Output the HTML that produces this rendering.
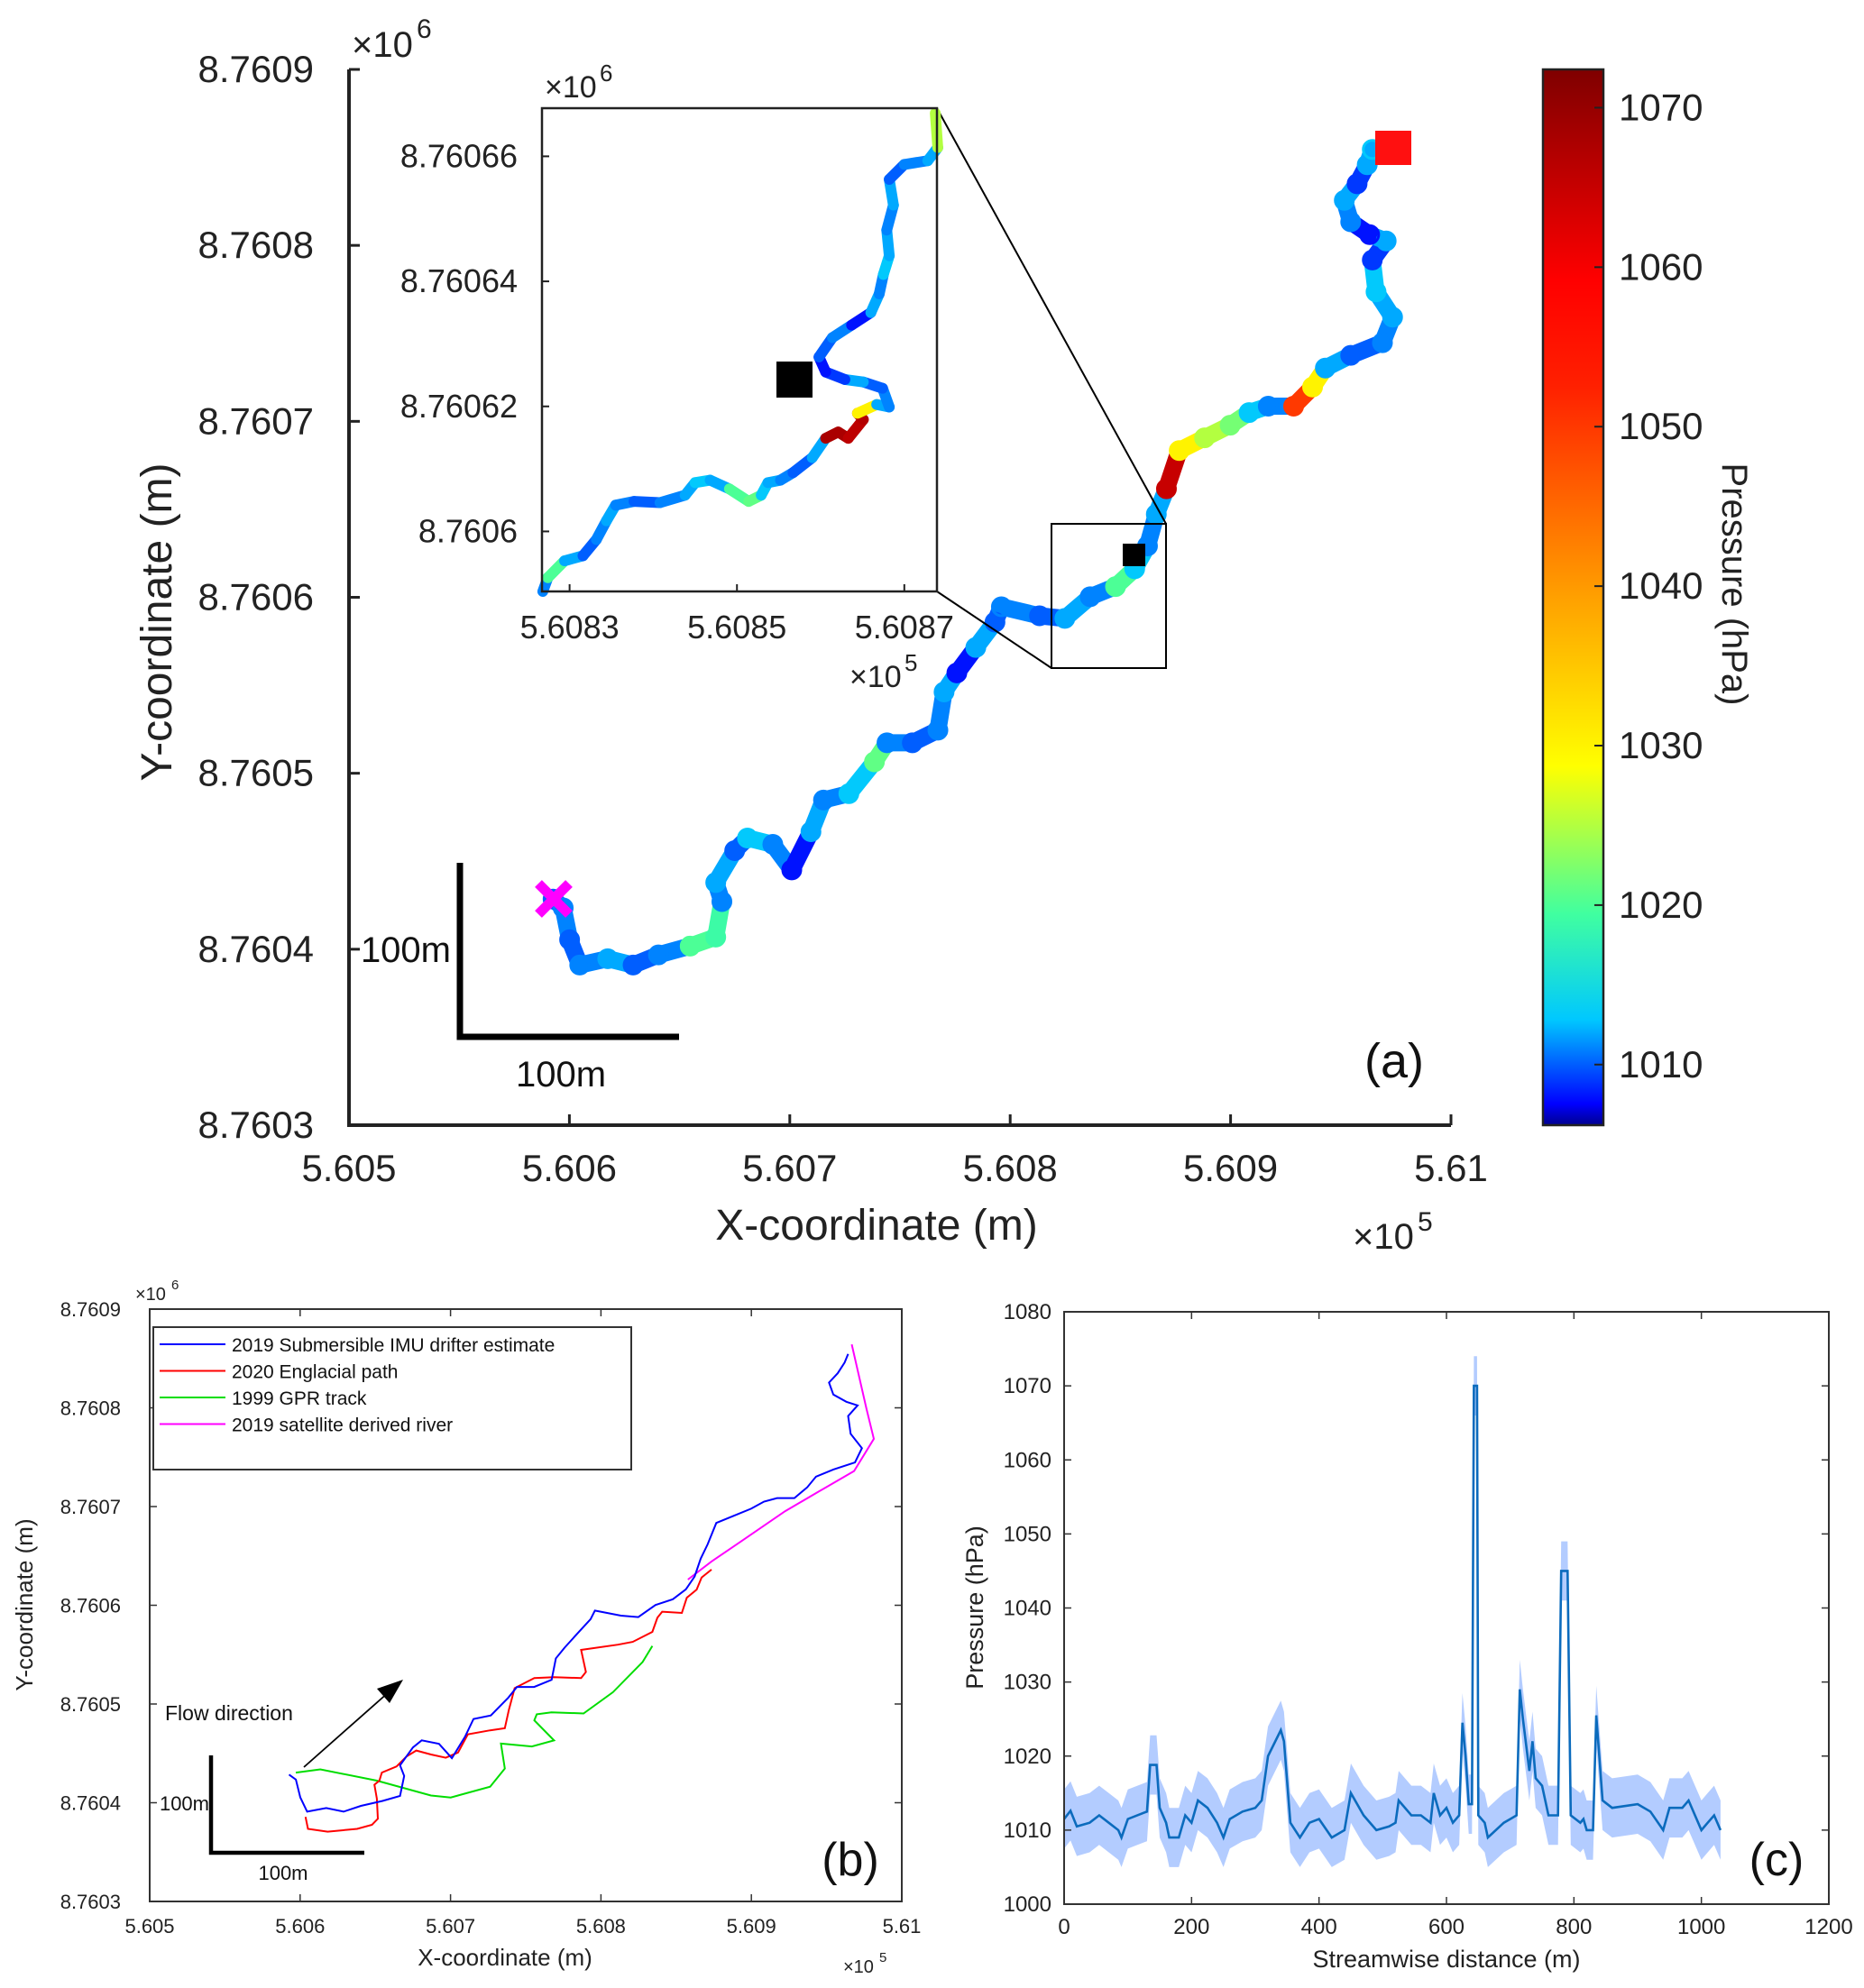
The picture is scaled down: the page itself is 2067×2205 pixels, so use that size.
<!DOCTYPE html>
<html><head><meta charset="utf-8">
<style>
html,body{margin:0;padding:0;background:#fff;}
svg{display:block;font-family:"Liberation Sans",sans-serif;}
</style></head>
<body>
<svg id="fig" width="2067" height="2205" viewBox="0 0 2067 2205" xmlns="http://www.w3.org/2000/svg">
<defs>
<linearGradient id="jet" x1="0" y1="1" x2="0" y2="0"></linearGradient>
</defs>
<g id="pa"></g>
<g id="pb"></g>
<g id="pc"></g>
</svg>
<script>
// ---- data (panel a / b drifter track) ----
const trackX = [560592.6,560597.2,560600.1,560604.7,560617.4,560628.9,560640.4,560654.8,560666.4,560669.2,560666.4,560675,560680.8,560692.3,560700.9,560709.6,560715.3,560726.8,560738.4,560744.1,560755.6,560767.2,560770,560775.8,560784.4,560793.1,560796,560813.3,560824.8,560836.3,560847.8,560856.5,560862.3,560866.3,560870.9,560876.7,560888.2,560899.8,560908.4,560917.1,560928.6,560937.2,560943,560954.5,560968.9,560973.5,560966,560964.3,560970.6,560963.1,560954.5,560951.6,560957.4,560962,560964.3];
const trackY = [8760428.5,8760423.5,8760405.4,8760391,8760394.6,8760391,8760396.8,8760401.8,8760406.9,8760427.1,8760437.9,8760456,8760463.2,8760459.6,8760445.1,8760466.8,8760484.8,8760488.4,8760506.5,8760517.3,8760517.3,8760524.5,8760546.2,8760557,8760571.5,8760585.9,8760594.6,8760589.5,8760588,8760600.3,8760606.1,8760616.2,8760629.2,8760647.2,8760661.7,8760683.4,8760690.6,8760697.8,8760705,8760708.6,8760708.6,8760719.5,8760730.3,8760737.5,8760744.7,8760759.2,8760773.6,8760791.7,8760802.5,8760806.1,8760813.4,8760825.6,8760835,8760845.8,8760854.5];
const trackP = [1010,1011,1010,1011,1012,1010,1011,1020,1019,1011,1012,1010,1013,1011,1008,1012,1011,1013,1021,1011,1010,1011,1012,1008,1012,1010,1011,1010,1012,1011,1020,1013,1011,1012,1065,1030,1025,1022,1013,1011,1050,1030,1012,1010,1011,1012,1013,1009,1012,1008,1011,1012,1009,1012,1013];
// inset track
const insetX = [560826.8,560827.4,560829.4,560831.6,560833.2,560834.4,560835.5,560837.7,560840.8,560843.8,560845,560846.8,560849.1,560851.4,560852.9,560853.7,560855.2,560856.7,560859,560860.6,560862.1,560863.3,560865.1,560864.4,560866.7,560868.2,560867.4,560865.1,560862.9,560860.6,560859.8,560861.4,560863.7,560866,560867,560867.5,560868.2,560867.9,560868.7,560868.2,560870,560872.8,560874,560873.7];
const insetY = [8760590.4,8760592.6,8760595.3,8760596.1,8760598.7,8760601.7,8760604.2,8760604.8,8760604.6,8760605.8,8760607.8,8760608.2,8760606.8,8760604.8,8760605.8,8760607.8,8760608.2,8760609.4,8760611.8,8760614.9,8760615.9,8760614.9,8760617.9,8760618.9,8760620.3,8760619.9,8760622.9,8760623.9,8760624.3,8760625.5,8760627.9,8760631,8760633,8760635,8760638,8760641.1,8760644.1,8760648.2,8760652.2,8760656.3,8760658.7,8760659.3,8760661.4,8760666.9];
const insetP = [1011,1020,1012,1010,1011,1012,1011,1010,1011,1012,1013,1012,1020,1021,1013,1012,1011,1010,1012,1068,1068,1066,1067,1030,1012,1011,1010,1012,1009,1008,1010,1011,1008,1012,1011,1013,1012,1011,1012,1010,1011,1012,1025,1030];
// panel b other paths
const redX = [560603.6,560605.2,560618.3,560637.9,560647.8,560651.7,560651,560649.4,560652.7,560654.3,560664.1,560670.7,560677.2,560687,560696.8,560705,560711.5,560726.3,560736.1,560738.7,560742.6,560755.7,560768.8,560786.8,560790,560786.8,560811.3,560821.1,560834.2,560837.5,560840.7,560853.8,560857.1,560863.6,560866.9,560873.5];
const redY = [8760385.7,8760373.5,8760370.7,8760373.5,8760377.6,8760383.7,8760404.1,8760418.3,8760422.4,8760430.5,8760436.7,8760446.8,8760452.9,8760448.9,8760445.6,8760450.9,8760469.2,8760473.3,8760475.4,8760493.7,8760516.1,8760526.3,8760527.1,8760526.3,8760532.4,8760554.8,8760560.1,8760562.9,8760573.1,8760587.4,8760593.5,8760592.2,8760607.7,8760615.9,8760628.1,8760636.2];
const greenX = [560597.1,560613.4,560651,560687,560700.1,560726.3,560736.1,560733.5,560754.1,560768.8,560755.7,560757.3,560767.1,560788.4,560808,560827.7,560834.2];
const greenY = [8760430.5,8760433.8,8760422.4,8760407.3,8760405.3,8760416.3,8760434.6,8760459.9,8760457,8760463.1,8760483.5,8760489.6,8760491.6,8760490.4,8760512,8760542.6,8760558.8];
const magX = [560857.8,560873.5,560893.1,560922.5,560945.4,560968.3,560981.4,560976.5,560966.7];
const magY = [8760626,8760644.4,8760664.7,8760695.3,8760715.7,8760736,8760768.6,8760799.2,8760864.3];
// panel c
const dist = [0,10,20,40,55,70,85,90,100,130,135,145,150,160,165,180,190,200,210,225,240,250,260,280,300,310,320,340,345,355,370,385,400,420,440,450,470,490,510,520,525,545,560,575,580,590,600,610,620,625,630,635,640,643,648,650,660,665,690,700,710,715,720,730,735,740,750,760,775,780,790,795,810,815,820,830,835,845,860,900,920,940,950,970,980,990,1000,1010,1020,1030];
const pres = [1011.5,1012.6,1010.5,1011,1012,1011,1010,1009,1011.5,1012.5,1018.8,1018.8,1013,1011,1009,1009,1012,1011,1014,1013,1011,1009,1011.5,1012.5,1013,1014,1020,1023.5,1022,1011,1009,1011,1011.5,1009,1010,1015,1012,1010,1010.5,1011,1014,1012,1012,1011,1015,1012,1013,1011,1012,1024.5,1020,1013.5,1013.5,1070,1070,1012,1011,1009,1011,1011.5,1012,1029,1025,1018,1022,1017,1016,1012,1012,1045,1045,1012,1011,1011.5,1010,1010,1025.5,1014,1013,1013.5,1012.5,1010,1013,1013,1014,1012,1010,1011,1012,1010];
const presErr = [4,4,4,4,4,4,4,4,4,4,4,4,4,4,4,4,4,4,4,4,4,4,4,4,4,4,4,4,4,4,4,4,4,4,4,4,4,4,4,4,4,4,4,4,4,4,4,4,4,4,4,4,4,4,4,4,4,4,4,4,4,4,4,4,4,4,4,4,4,4,4,4,4,4,4,4,4,4,4,4,4,4,4,4,4,4,4,4,4,4];
const aXTicks = ["5.605","5.606","5.607","5.608","5.609","5.61"];
const aYTicks = ["8.7603","8.7604","8.7605","8.7606","8.7607","8.7608","8.7609"];
const cbTicks = [1010,1020,1030,1040,1050,1060,1070];
const cXTicks = [0,200,400,600,800,1000,1200];
const cYTicks = [1000,1010,1020,1030,1040,1050,1060,1070,1080];

const NS="http://www.w3.org/2000/svg";
function mk(parent,tag,attrs,text){const e=document.createElementNS(NS,tag);for(const k in attrs)e.setAttribute(k,attrs[k]);if(text!==undefined)e.textContent=text;parent.appendChild(e);return e;}
const CSTOPS=[[0,0,0,143],[0.02,0,0,255],[0.1,0,200,255],[0.2,64,255,160],[0.34,255,255,0],[0.5,255,160,0],[0.7,255,32,0],[0.8,255,0,0],[1,127,0,0]];
const grad=document.getElementById('jet');
CSTOPS.forEach(s=>mk(grad,'stop',{offset:s[0],'stop-color':`rgb(${s[1]},${s[2]},${s[3]})`}));
function jet(v){const t=Math.max(0,Math.min(1,(v-1006.2)/(1072.4-1006.2)));
 for(let i=1;i<CSTOPS.length;i++){if(t<=CSTOPS[i][0]){const a=CSTOPS[i-1],b=CSTOPS[i],f=(t-a[0])/(b[0]-a[0]);
  return `rgb(${Math.round(a[1]+f*(b[1]-a[1]))},${Math.round(a[2]+f*(b[2]-a[2]))},${Math.round(a[3]+f*(b[3]-a[3]))})`;}}
 return 'rgb(127,0,0)';}

// ---------- Panel A ----------
const pa=document.getElementById('pa');
const A={l:387,r:1609,t:77,b:1248};
const ax=x=>A.l+(x-560500)/500*(A.r-A.l);
const ay=y=>A.b-(y-8760300)/600*(A.b-A.t);
let e;
for(let i=0;i<trackX.length-1;i++){
 e=mk(pa,'line',{x1:ax(trackX[i]),y1:ay(trackY[i]),x2:ax(trackX[i+1]),y2:ay(trackY[i+1]),stroke:jet(trackP[i]),'stroke-width':19,'stroke-linecap':'round'});
 
 
}
for(let i=0;i<trackX.length;i++){
 e=mk(pa,'circle',{cx:ax(trackX[i]),cy:ay(trackY[i]),r:10,fill:'none',stroke:jet(trackP[i]),'stroke-width':3});
 
 
}
mk(pa,'path',{d:`M${A.l} ${A.t}V${A.b}H${A.r}`,fill:'none',stroke:'#222','stroke-width':4,});
aXTicks.forEach((t,i)=>{const x=A.l+i*(A.r-A.l)/5;
 mk(pa,'line',{x1:x,y1:A.b,x2:x,y2:A.b-12,stroke:'#222','stroke-width':3,});
 mk(pa,'text',{x:x,y:1310,'font-size':42,'text-anchor':'middle',fill:'#222',},t);});
aYTicks.forEach((t,i)=>{const y=A.b-i*(A.b-A.t)/6;
 mk(pa,'line',{x1:A.l,y1:y,x2:A.l+12,y2:y,stroke:'#222','stroke-width':3,});
 mk(pa,'text',{x:348,y:y+14,'font-size':42,'text-anchor':'end',fill:'#222',},t);});
mk(pa,'text',{x:972,y:1375,'font-size':48,'text-anchor':'middle',fill:'#222',},'X-coordinate (m)');
mk(pa,'text',{x:0,y:0,'font-size':48,'text-anchor':'middle',fill:'#222',transform:'translate(190,690) rotate(-90)',},'Y-coordinate (m)');
mk(pa,'text',{x:1500,y:1385,'font-size':40,fill:'#222',},'×10');
mk(pa,'text',{x:1572,y:1365,'font-size':30,fill:'#222',},'5');
mk(pa,'text',{x:390,y:63,'font-size':40,fill:'#222',},'×10');
mk(pa,'text',{x:462,y:42,'font-size':30,fill:'#222',},'6');
mk(pa,'path',{d:'M510 957V1150H753',fill:'none',stroke:'#000','stroke-width':7,});
mk(pa,'text',{x:500,y:1067,'font-size':40,'text-anchor':'end',fill:'#111',},'100m');
mk(pa,'text',{x:622,y:1205,'font-size':40,'text-anchor':'middle',fill:'#111',},'100m');
mk(pa,'text',{x:1546,y:1195,'font-size':54,'text-anchor':'middle',fill:'#111',},'(a)');
mk(pa,'path',{d:'M597 980L631 1014M631 980L597 1014',stroke:'#ff00ff','stroke-width':11,});
mk(pa,'rect',{x:1525,y:145,width:40,height:38,fill:'#ff1010',});
mk(pa,'rect',{x:1245,y:603,width:25,height:25,fill:'#000',});
mk(pa,'rect',{x:1166,y:581,width:127,height:160,fill:'none',stroke:'#000','stroke-width':2,});
mk(pa,'line',{x1:1293,y1:581,x2:1039,y2:120,stroke:'#000','stroke-width':2,});
mk(pa,'line',{x1:1166,y1:741,x2:1039,y2:656,stroke:'#000','stroke-width':2,});
// inset
const I={l:601,r:1039,t:120,b:656};
const ix=x=>I.l+(x-560826.7)/(560873.9-560826.7)*(I.r-I.l);
const iy=y=>I.b-(y-8760590.4)/(8760667.7-8760590.4)*(I.b-I.t);
const ig=mk(pa,'g',{});
mk(ig,'rect',{x:I.l,y:I.t,width:I.r-I.l,height:I.b-I.t,fill:'#fff',});
for(let i=0;i<insetX.length-1;i++){
 e=mk(ig,'line',{x1:ix(insetX[i]),y1:iy(insetY[i]),x2:ix(insetX[i+1]),y2:iy(insetY[i+1]),stroke:jet(insetP[i]),'stroke-width':12,'stroke-linecap':'round'});
 
 
}
mk(ig,'rect',{x:861,y:401,width:40,height:40,fill:'#000',});
mk(ig,'path',{d:`M${I.l} ${I.b}V${I.t}H${I.r}V${I.b}Z`,fill:'none',stroke:'#222','stroke-width':2.5,});
["5.6083","5.6085","5.6087"].forEach((t,i)=>{const x=ix(560830+i*20);
 mk(ig,'line',{x1:x,y1:I.b,x2:x,y2:I.b-8,stroke:'#222','stroke-width':2});
 mk(ig,'text',{x:x,y:708,'font-size':36,'text-anchor':'middle',fill:'#222',},t);});
["8.7606","8.76062","8.76064","8.76066"].forEach((t,i)=>{const y=iy(8760600+i*20);
 mk(ig,'line',{x1:I.l,y1:y,x2:I.l+8,y2:y,stroke:'#222','stroke-width':2});
 mk(ig,'text',{x:574,y:y+12,'font-size':36,'text-anchor':'end',fill:'#222',},t);});
mk(ig,'text',{x:604,y:108,'font-size':34,fill:'#222',},'×10');
mk(ig,'text',{x:665,y:90,'font-size':26,fill:'#222'},'6');
mk(ig,'text',{x:942,y:762,'font-size':34,fill:'#222',},'×10');
mk(ig,'text',{x:1003,y:744,'font-size':26,fill:'#222'},'5');
// colorbar
const CB={l:1711,r:1778,t:77,b:1248};
mk(pa,'rect',{x:CB.l,y:CB.t,width:CB.r-CB.l,height:CB.b-CB.t,fill:'url(#jet)',stroke:'#222','stroke-width':2.5,});
const cby=v=>CB.b-(v-1006.2)/(1072.4-1006.2)*(CB.b-CB.t);
cbTicks.forEach(v=>{const y=cby(v);
 mk(pa,'line',{x1:CB.r-10,y1:y,x2:CB.r,y2:y,stroke:'#222','stroke-width':2});
 mk(pa,'text',{x:1795,y:y+14,'font-size':42,fill:'#222',},String(v));});
mk(pa,'text',{x:0,y:0,'font-size':40,'text-anchor':'middle',fill:'#222',transform:'translate(1910,648) rotate(90)',},'Pressure (hPa)');

// ---------- Panel B ----------
const pb=document.getElementById('pb');
const B={l:166,r:1000,t:1452,b:2109};
const bx=x=>B.l+(x-560500)/500*(B.r-B.l);
const by=y=>B.b-(y-8760300)/600*(B.b-B.t);
mk(pb,'rect',{x:B.l,y:B.t,width:B.r-B.l,height:B.b-B.t,fill:'none',stroke:'#333','stroke-width':2,});
function poly(xs,ys,col,w,name){let d='';for(let i=0;i<xs.length;i++)d+=(i?'L':'M')+bx(xs[i]).toFixed(1)+' '+by(ys[i]).toFixed(1);
 const p=mk(pb,'path',{d:d,fill:'none',stroke:col,'stroke-width':w});
 
 }
poly(magX,magY,'#ff00ff',2,'satellite-river-line');
poly(greenX,greenY,'#00dd00',2,'gpr-track-line');
poly(redX,redY,'#ff0000',2,'englacial-path-line');
poly(trackX,trackY,'#0000ff',2,'drifter-estimate-line');
aXTicks.forEach((t,i)=>{const x=B.l+i*(B.r-B.l)/5;
 mk(pb,'line',{x1:x,y1:B.b,x2:x,y2:B.b-8,stroke:'#333','stroke-width':1.5});
 mk(pb,'line',{x1:x,y1:B.t,x2:x,y2:B.t+8,stroke:'#333','stroke-width':1.5});
 mk(pb,'text',{x:x,y:2144,'font-size':22,'text-anchor':'middle',fill:'#222',},t);});
aYTicks.forEach((t,i)=>{const y=B.b-i*(B.b-B.t)/6;
 mk(pb,'line',{x1:B.l,y1:y,x2:B.l+8,y2:y,stroke:'#333','stroke-width':1.5});
 mk(pb,'line',{x1:B.r,y1:y,x2:B.r-8,y2:y,stroke:'#333','stroke-width':1.5});
 mk(pb,'text',{x:134,y:y+8,'font-size':22,'text-anchor':'end',fill:'#222',},t);});
mk(pb,'text',{x:560,y:2180,'font-size':26,'text-anchor':'middle',fill:'#222',},'X-coordinate (m)');
mk(pb,'text',{x:0,y:0,'font-size':26,'text-anchor':'middle',fill:'#222',transform:'translate(36,1780) rotate(-90)',},'Y-coordinate (m)');
mk(pb,'text',{x:150,y:1442,'font-size':20,fill:'#222'},'×10');
mk(pb,'text',{x:190,y:1430,'font-size':15,fill:'#222'},'6');
mk(pb,'text',{x:935,y:2188,'font-size':20,fill:'#222'},'×10');
mk(pb,'text',{x:975,y:2176,'font-size':15,fill:'#222'},'5');
const lg=mk(pb,'g',{});
mk(lg,'rect',{x:170,y:1472,width:530,height:158,fill:'#fff',stroke:'#333','stroke-width':2});
[['2019 Submersible IMU drifter estimate','#0000ff'],['2020 Englacial path','#ff0000'],['1999 GPR track','#00dd00'],['2019 satellite derived river','#ff00ff']].forEach((it,i)=>{
 const y=1491+i*29.5;
 const le=mk(lg,'g',{});
 
 
 mk(le,'line',{x1:177,y1:y,x2:250,y2:y,stroke:it[1],'stroke-width':2});
 mk(le,'text',{x:257,y:y+8,'font-size':21,fill:'#111'},it[0]);});
mk(pb,'text',{x:183,y:1908,'font-size':23,fill:'#111',},'Flow direction');
mk(pb,'line',{x1:337,y1:1960,x2:432,y2:1876,stroke:'#000','stroke-width':1.8,});
mk(pb,'path',{d:'M447 1863L418 1873L432 1889Z',fill:'#000'});
mk(pb,'path',{d:'M234 1947V2055H404',fill:'none',stroke:'#000','stroke-width':4.5,});
mk(pb,'text',{x:232,y:2008,'font-size':22,'text-anchor':'end',fill:'#111'},'100m');
mk(pb,'text',{x:314,y:2085,'font-size':22,'text-anchor':'middle',fill:'#111'},'100m');
mk(pb,'text',{x:943,y:2080,'font-size':52,'text-anchor':'middle',fill:'#111',},'(b)');

// ---------- Panel C ----------
const pc=document.getElementById('pc');
const C={l:1180,r:2028,t:1455,b:2112};
const cx=d=>C.l+d/1200*(C.r-C.l);
const cy=p=>C.b-(p-1000)/80*(C.b-C.t);
let up='',dn='';
for(let i=0;i<dist.length;i++){up+=(i?'L':'M')+cx(dist[i]).toFixed(1)+' '+cy(pres[i]+presErr[i]).toFixed(1);}
for(let i=dist.length-1;i>=0;i--){dn+='L'+cx(dist[i]).toFixed(1)+' '+cy(pres[i]-presErr[i]).toFixed(1);}
mk(pc,'path',{d:up+dn+'Z',fill:'#b3ccff',});
let ln='';for(let i=0;i<dist.length;i++)ln+=(i?'L':'M')+cx(dist[i]).toFixed(1)+' '+cy(pres[i]).toFixed(1);
mk(pc,'path',{d:ln,fill:'none',stroke:'#0b6bbd','stroke-width':2.6,});
mk(pc,'rect',{x:C.l,y:C.t,width:C.r-C.l,height:C.b-C.t,fill:'none',stroke:'#333','stroke-width':2,});
cXTicks.forEach(v=>{const x=cx(v);
 mk(pc,'line',{x1:x,y1:C.b,x2:x,y2:C.b-8,stroke:'#333','stroke-width':1.5});
 mk(pc,'line',{x1:x,y1:C.t,x2:x,y2:C.t+8,stroke:'#333','stroke-width':1.5});
 mk(pc,'text',{x:x,y:2145,'font-size':24,'text-anchor':'middle',fill:'#222',},String(v));});
cYTicks.forEach(v=>{const y=cy(v);
 mk(pc,'line',{x1:C.l,y1:y,x2:C.l+8,y2:y,stroke:'#333','stroke-width':1.5});
 mk(pc,'line',{x1:C.r,y1:y,x2:C.r-8,y2:y,stroke:'#333','stroke-width':1.5});
 mk(pc,'text',{x:1166,y:y+8,'font-size':24,'text-anchor':'end',fill:'#222',},String(v));});
mk(pc,'text',{x:1604,y:2182,'font-size':27,'text-anchor':'middle',fill:'#222',},'Streamwise distance (m)');
mk(pc,'text',{x:0,y:0,'font-size':27,'text-anchor':'middle',fill:'#222',transform:'translate(1090,1783) rotate(-90)',},'Pressure (hPa)');
mk(pc,'text',{x:1970,y:2080,'font-size':52,'text-anchor':'middle',fill:'#111',},'(c)');
</script>
</body></html>
